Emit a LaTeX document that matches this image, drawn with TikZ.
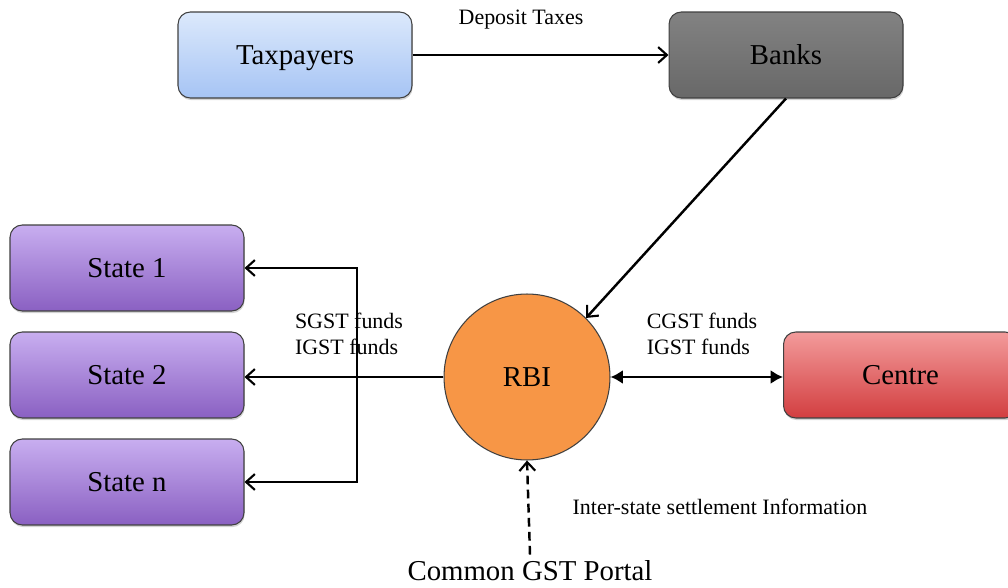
\documentclass[tikz,border=0pt]{standalone}
\usepackage{fontspec}
\setmainfont{Liberation Serif}
\usetikzlibrary{arrows.meta,shadows}

\definecolor{taxtop}{RGB}{220,233,252}
\definecolor{taxbot}{RGB}{166,196,244}
\definecolor{banktop}{RGB}{130,130,130}
\definecolor{bankbot}{RGB}{104,104,104}
\definecolor{statetop}{RGB}{200,174,240}
\definecolor{statebot}{RGB}{138,96,194}
\definecolor{centretop}{RGB}{243,155,155}
\definecolor{centrebot}{RGB}{210,62,64}
\definecolor{rbifill}{RGB}{247,150,70}

\begin{document}
\begin{tikzpicture}[x=0.02cm, y=-0.02cm]
    \tikzset{
        box/.style={
            draw=black!75, rounded corners=7pt, line width=0.6pt,
            minimum width=4.68cm, minimum height=1.72cm,
            font=\fontsize{16.4}{19}\selectfont, text depth=0pt,
            drop shadow={opacity=0.35, shadow xshift=0.4pt, shadow yshift=-1.2pt},
        },
        statebox/.style={box, top color=statetop, bottom color=statebot},
        lbl/.style={font=\fontsize{12.5}{15}\selectfont, align=left, inner sep=1pt},
        arr/.style={-{Straight Barb[length=5pt, width=9pt, line width=1.2pt]}, line width=1.4pt},
    }
    \useasboundingbox (0,0) rectangle (1008,588);

    % Boxes
    \node[box, top color=taxtop, bottom color=taxbot] (tax) at (295,55) {Taxpayers};
    \node[box, top color=banktop, bottom color=bankbot] (banks) at (786,55) {Banks};
    \node[statebox] (s1) at (127,268) {State 1};
    \node[statebox] (s2) at (127,375) {State 2};
    \node[statebox] (sn) at (127,482) {State n};
    \node[box, top color=centretop, bottom color=centrebot, anchor=west] (centre) at (783,375) {Centre};
    \node[circle, draw=black!75, line width=0.6pt, fill=rbifill,
          minimum size=3.32cm, font=\fontsize{16.4}{19}\selectfont] (rbi) at (527,377) {RBI};
    \node[font=\fontsize{16.4}{19}\selectfont] (portal) at (530,571) {Common GST Portal};

    % Labels
    \node[lbl] (dep) at (521,20) {Deposit Taxes};
    \node[lbl] (sgst) at (349,334) {SGST funds\\IGST funds};
    \node[lbl] (cgst) at (702,334) {CGST funds\\IGST funds};
    \node[lbl] (info) at (720,507) {Inter-state settlement Information};

    % Arrows
    \coordinate (jtop) at (357,268);
    \coordinate (jbot) at (357,482);
    \draw[arr] (tax) -- (banks);
    \draw[arr] (banks.south) -- (rbi.45);
    \draw[arr] (rbi.west) -- (s2.east |- rbi.west);
    \draw[arr, {Straight Barb[length=5pt, width=9pt, line width=1.2pt]}-{Straight Barb[length=5pt, width=9pt, line width=1.2pt]}]
        (s1.east) -- (jtop) -- (jbot) -- (sn.east);
    \draw[line width=1.4pt, {Latex[length=7pt, width=8pt]}-{Latex[length=7pt, width=8pt]}] (rbi.east) -- (centre.west |- rbi.east);
    \draw[arr, dash pattern=on 5pt off 3pt] (portal.north) -- (rbi.south);
\end{tikzpicture}
\end{document}
